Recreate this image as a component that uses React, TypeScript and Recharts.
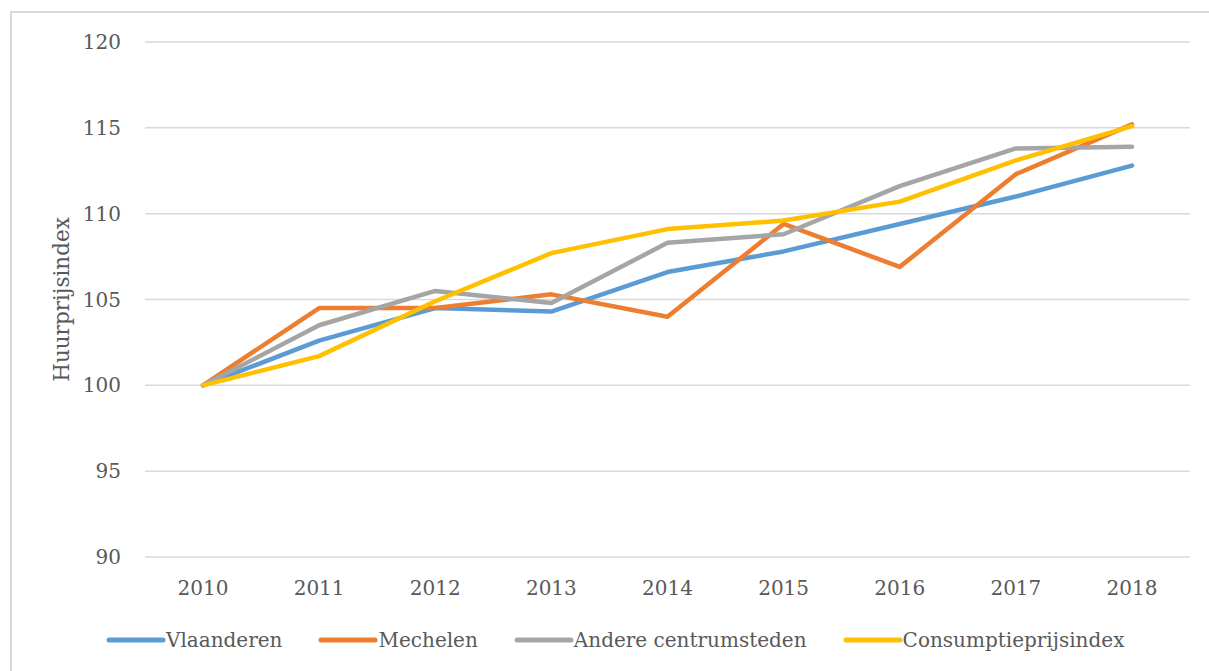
import { LineChart, Line, XAxis, YAxis, CartesianGrid } from 'recharts';

const years = ['2010', '2011', '2012', '2013', '2014', '2015', '2016', '2017', '2018'];
const vlaanderen = [100, 102.6, 104.5, 104.3, 106.6, 107.8, 109.4, 111.0, 112.8];
const mechelen = [100, 104.5, 104.5, 105.3, 104.0, 109.4, 106.9, 112.3, 115.2];
const andereCentrumsteden = [100, 103.5, 105.5, 104.8, 108.3, 108.8, 111.6, 113.8, 113.9];
const consumptieprijsindex = [100, 101.7, 104.9, 107.7, 109.1, 109.6, 110.7, 113.1, 115.1];
const yTicks = [90, 95, 100, 105, 110, 115, 120];

const series = [
  { key: 'vlaanderen', name: 'Vlaanderen', values: vlaanderen, color: '#5B9BD5' },
  { key: 'mechelen', name: 'Mechelen', values: mechelen, color: '#ED7D31' },
  { key: 'andere', name: 'Andere centrumsteden', values: andereCentrumsteden, color: '#A5A5A5' },
  { key: 'cpi', name: 'Consumptieprijsindex', values: consumptieprijsindex, color: '#FFC000' },
];

const data = years.map((year, i) => {
  const row: Record<string, string | number> = { year };
  series.forEach(s => { row[s.key] = s.values[i]; });
  return row;
});

const FONT = '"DejaVu Serif", serif';
const TEXT = '#595959';

export default function App() {
  return (
    <div style={{ position: 'absolute', left: 0, top: 0, width: 1209, height: 671, overflow: 'hidden', background: '#fff', fontFamily: FONT }}>
      <div style={{ position: 'absolute', left: 10, top: 11, width: 1300, height: 800, borderLeft: '2px solid #d9d9d9', borderTop: '2px solid #d9d9d9' }} />
      <LineChart
        width={1209}
        height={671}
        data={data}
        margin={{ top: 42, right: 19, left: 0, bottom: 0 }}
        style={{ position: 'absolute', left: 0, top: 0 }}
      >
        <CartesianGrid vertical={false} stroke="#d9d9d9" strokeWidth={1.5} />
        <XAxis
          dataKey="year"
          height={114}
          axisLine={false}
          tickLine={false}
          tickSize={0}
          tickMargin={24}
          padding={{ left: 58, right: 58 }}
          tick={{ fontSize: 20, fill: TEXT, fontFamily: FONT }}
        />
        <YAxis
          width={145}
          domain={[90, 120]}
          ticks={yTicks}
          axisLine={false}
          tickLine={false}
          tickSize={0}
          tickMargin={24}
          tick={{ fontSize: 20, fill: TEXT, fontFamily: FONT }}
          label={{
            value: 'Huurprijsindex',
            angle: -90,
            position: 'insideLeft',
            offset: 61,
            style: { fontSize: 21.5, fill: TEXT, fontFamily: FONT, textAnchor: 'middle' },
          }}
        />
        {series.map(s => (
          <Line
            key={s.key}
            dataKey={s.key}
            name={s.name}
            stroke={s.color}
            strokeWidth={4.5}
            strokeLinecap="round"
            strokeLinejoin="round"
            dot={false}
            activeDot={false}
            isAnimationActive={false}
          />
        ))}
      </LineChart>
      <div style={{ position: 'absolute', left: 106, top: 626, display: 'flex', alignItems: 'center', gap: 36, color: TEXT, fontSize: 20, lineHeight: '28px', whiteSpace: 'nowrap' }}>
        {series.map(s => (
          <div key={s.key} style={{ display: 'flex', alignItems: 'center' }}>
            <svg width={60} height={10} style={{ display: 'block' }}>
              <line x1={3} y1={5} x2={57} y2={5} stroke={s.color} strokeWidth={5} strokeLinecap="round" />
            </svg>
            <span>{s.name}</span>
          </div>
        ))}
      </div>
    </div>
  );
}
